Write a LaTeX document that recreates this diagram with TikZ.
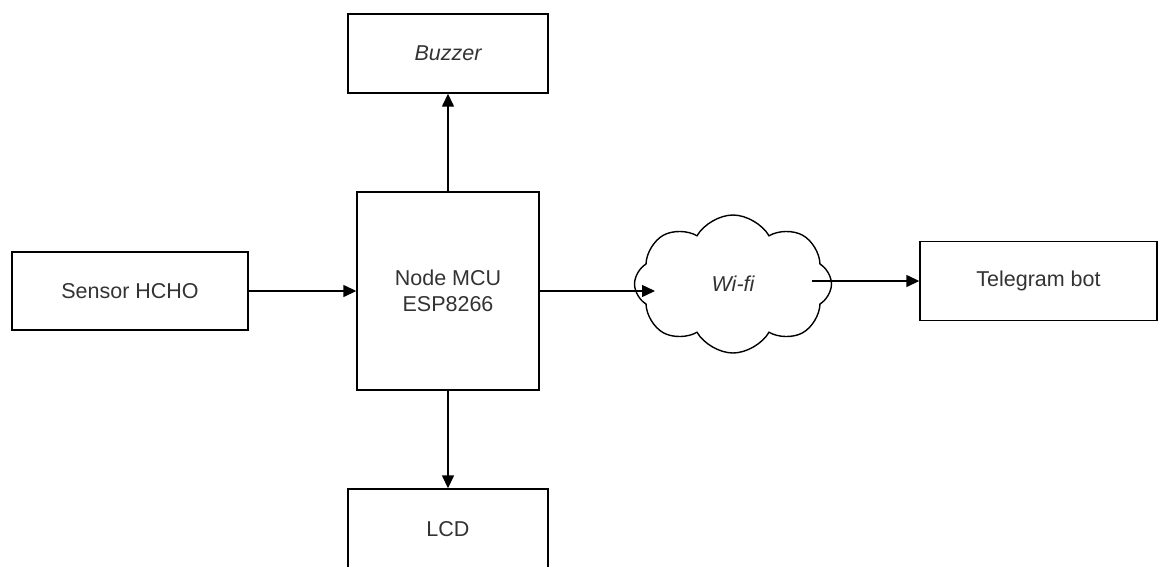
\documentclass[tikz,border=0pt]{standalone}
\usepackage{fontspec}
\setmainfont{Liberation Sans}
\usetikzlibrary{arrows.meta,shapes.symbols}

\begin{document}
\begin{tikzpicture}[x=1pt,y=-1pt,
  blk/.style={draw,line width=1.4pt,inner sep=0pt,text=black!80,
    font=\fontsize{21.5}{26}\selectfont},
  conn/.style={line width=1.4pt,-{Triangle[length=13pt,width=12pt]}}]
  \useasboundingbox (0,0) rectangle (1163,566);
  \node[blk,minimum width=200,minimum height=79] (buzzer) at (448,53.5) {\itshape Buzzer};
  \node[blk,minimum width=182,minimum height=198,align=center] (mcu) at (448,291) {Node MCU\\ESP8266};
  \node[blk,minimum width=200,minimum height=80] (lcd) at (448,529) {LCD};
  \node[blk,minimum width=236,minimum height=78] (sensor) at (130,291) {Sensor HCHO};
  \node[blk,cloud,cloud puffs=8,cloud puff arc=120,aspect=1.4,
    minimum width=197,minimum height=138] (wifi) at (733,284) {\itshape Wi-fi};
  \node[blk,minimum width=237,minimum height=79] (tg) at (1038.5,281) {Telegram bot};
  \coordinate (wifiin) at (655,291);
  \coordinate (wifiout) at (812,281);
  \draw[conn] (mcu) -- (buzzer);
  \draw[conn] (mcu) -- (lcd);
  \draw[conn] (sensor) -- (mcu);
  \draw[conn] (mcu.east |- wifiin) -- (wifiin);
  \draw[conn] (wifiout) -- (tg);
\end{tikzpicture}
\end{document}
